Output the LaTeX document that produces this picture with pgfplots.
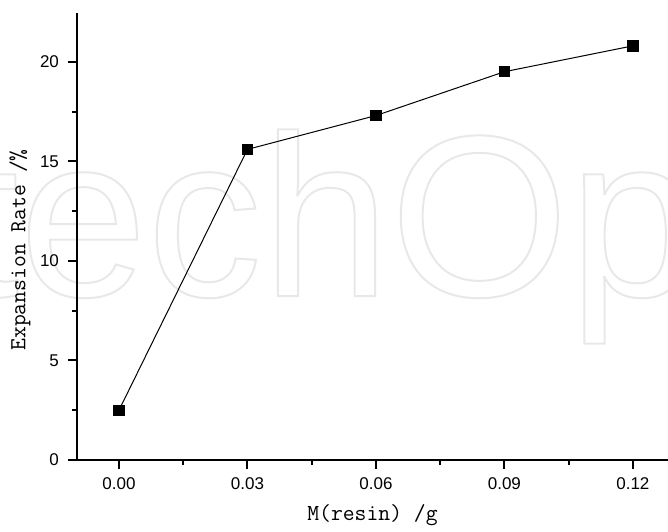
\documentclass[border=0pt]{standalone}
\usepackage{fontspec}
\setmainfont{Liberation Sans}
\usepackage{pgfplots}
\pgfplotsset{compat=1.18}
\begin{document}
\begin{tikzpicture}
\useasboundingbox (-38.5pt,-35.5pt) rectangle (295.5pt,230pt);
% faint outlined watermark
\node[anchor=base west, inner sep=0pt, text=black!9, font=\fontsize{115}{120}\selectfont]
  at (-157pt,82pt) {\special{pdf:code q 1 Tr 1 w}IntechOpen\special{pdf:code Q}};
\begin{axis}[
  at={(0,0)}, anchor=south west,
  scale only axis, width=295.5pt, height=223.5pt,
  xmin=-0.0098, xmax=0.1282, ymin=0, ymax=22.45,
  axis lines*=left,
  axis line style={line width=1pt, black},
  xtick={0,0.03,0.06,0.09,0.12},
  xticklabels={0.00,0.03,0.06,0.09,0.12},
  minor xtick={0.015,0.045,0.075,0.105},
  ytick={0,5,10,15,20},
  minor ytick={2.5,7.5,12.5,17.5},
  tick align=outside,
  major tick length=4.5pt, minor tick length=2.5pt,
  every tick/.style={line width=1pt, black},
  /pgf/number format/assume math mode=true,
  ticklabel style={font=\fontsize{8.5}{10}\selectfont},
  xticklabel style={yshift=-1pt},
  yticklabel style={xshift=-1pt},
  label style={font=\ttfamily\fontsize{11.5}{13}\selectfont},
  xlabel={M(resin) /g},
  ylabel={Expansion Rate /\%},
  xlabel style={at={(axis description cs:0.5,-0.123)}, anchor=center},
  ylabel style={at={(axis description cs:-0.0964,0.47)}, anchor=center},
  clip=false,
]
\addplot[black, line width=0.5pt, mark=square*, mark size=2.6pt, mark options={solid, fill=black}]
  coordinates {(0.00,2.5) (0.03,15.6) (0.06,17.3) (0.09,19.5) (0.12,20.8)};
\end{axis}
\end{tikzpicture}
\end{document}
